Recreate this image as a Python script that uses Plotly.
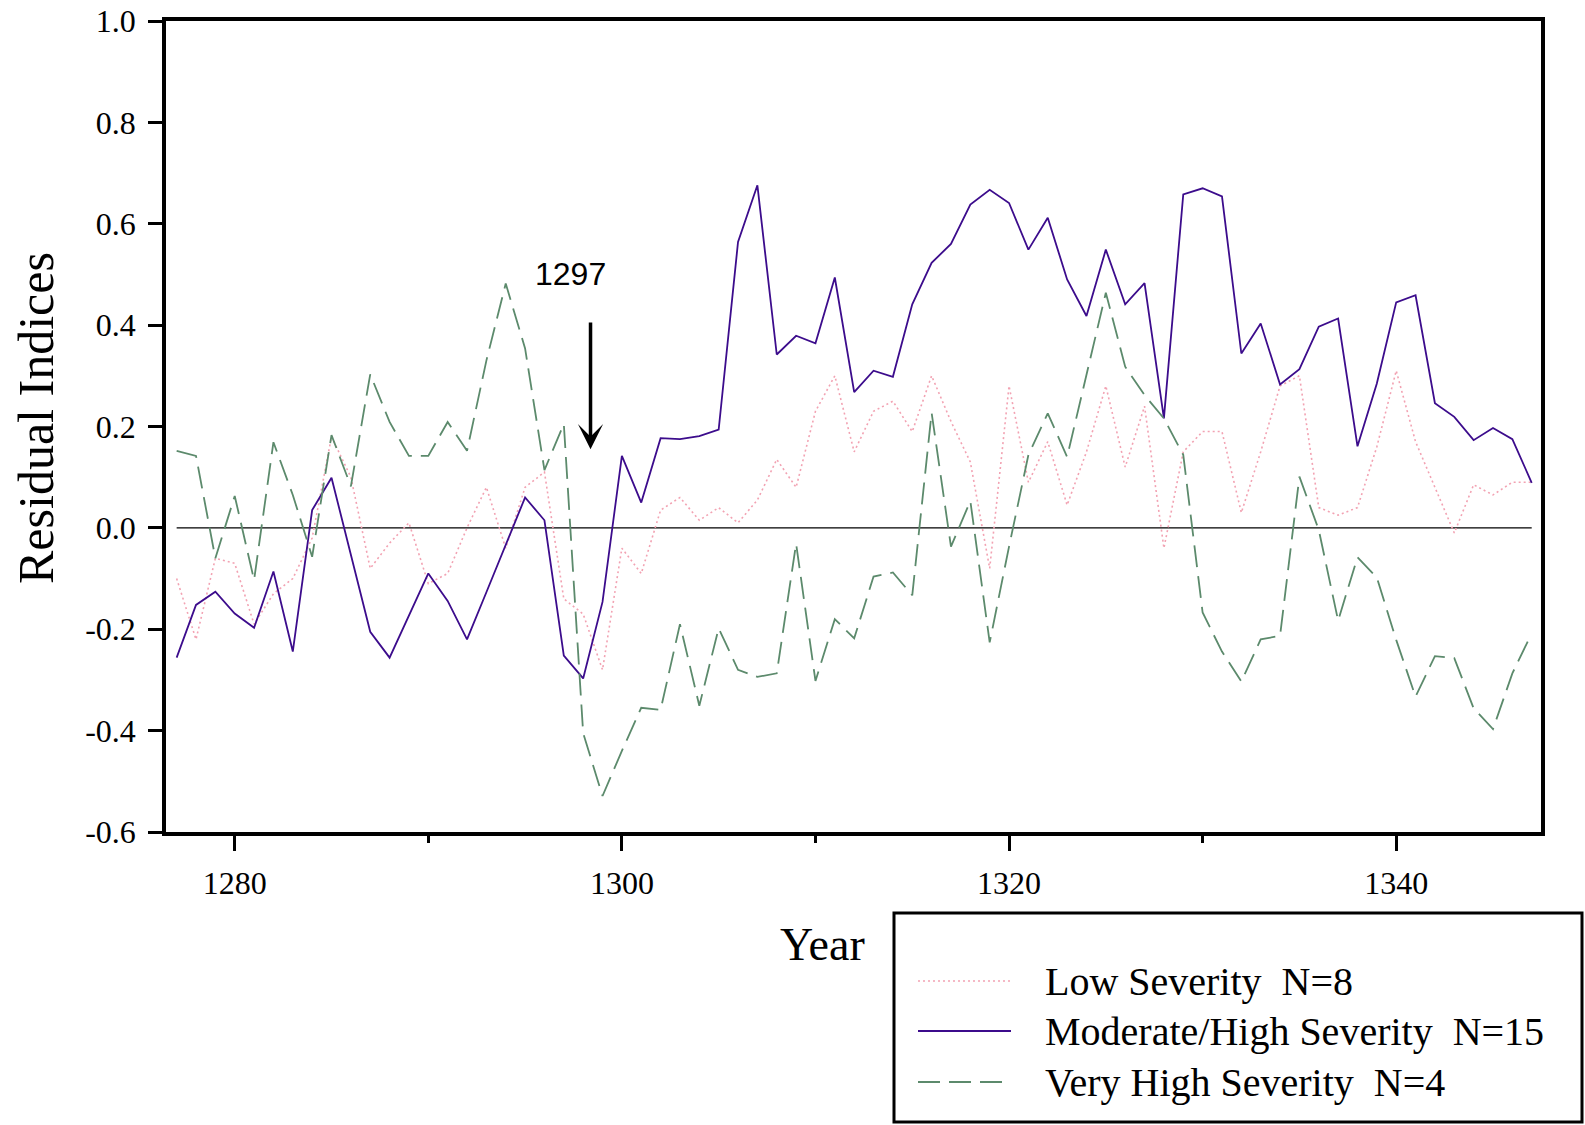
import plotly.graph_objects as go

# Residual indices by fire-severity class, 1277-1347
years = list(range(1277, 1348))

low_severity = [
    -0.10, -0.22, -0.06, -0.07, -0.19, -0.13, -0.10, -0.02, 0.18, 0.10,
    -0.08, -0.03, 0.01, -0.11, -0.09, 0.00, 0.08, -0.04, 0.08, 0.11,
    -0.14, -0.17, -0.28, -0.04, -0.09, 0.035, 0.06, 0.015, 0.04, 0.01,
    0.055, 0.135, 0.08, 0.23, 0.30, 0.15, 0.23, 0.25, 0.19, 0.30,
    0.21, 0.13, -0.08, 0.28, 0.09, 0.17, 0.045, 0.15, 0.28, 0.12,
    0.24, -0.04, 0.15, 0.19, 0.19, 0.03, 0.15, 0.28, 0.30, 0.04,
    0.025, 0.04, 0.16, 0.31, 0.17, 0.08, -0.01, 0.085, 0.065, 0.09,
    0.09,
]

moderate_high = [
    -0.256, -0.152, -0.126, -0.169, -0.197, -0.086, -0.244, 0.035, 0.099, -0.053,
    -0.205, -0.256, -0.173, -0.090, -0.144, -0.220, -0.127, -0.033, 0.060, 0.015,
    -0.252, -0.297, -0.146, 0.142, 0.050, 0.177, 0.175, 0.181, 0.194, 0.564,
    0.676, 0.342, 0.379, 0.364, 0.494, 0.268, 0.310, 0.298, 0.441, 0.523,
    0.560, 0.638, 0.667, 0.641, 0.549, 0.612, 0.490, 0.418, 0.549, 0.441,
    0.483, 0.216, 0.658, 0.670, 0.654, 0.344, 0.403, 0.283, 0.313, 0.397,
    0.413, 0.161, 0.285, 0.445, 0.459, 0.246, 0.219, 0.173, 0.197, 0.175,
    0.089,
]

very_high = [
    0.152, 0.142, -0.060, 0.063, -0.103, 0.169, 0.065, -0.057, 0.183, 0.082,
    0.303, 0.209, 0.142, 0.142, 0.209, 0.152, 0.330, 0.482, 0.354, 0.114,
    0.205, -0.405, -0.529, -0.440, -0.355, -0.359, -0.190, -0.351, -0.198, -0.280,
    -0.294, -0.287, -0.031, -0.302, -0.180, -0.218, -0.096, -0.088, -0.133, 0.227,
    -0.037, 0.053, -0.226, -0.037, 0.144, 0.226, 0.140, 0.305, 0.464, 0.318,
    0.262, 0.216, 0.144, -0.167, -0.244, -0.303, -0.220, -0.213, 0.101, -0.004,
    -0.183, -0.058, -0.098, -0.221, -0.333, -0.253, -0.257, -0.356, -0.397, -0.287,
    -0.208,
]

series_names = [
    "Low Severity  N=8",
    "Moderate/High Severity  N=15",
    "Very High Severity  N=4",
]

x_tick_vals = [1280, 1300, 1320, 1340]
x_minor_vals = [1290, 1310, 1330]
y_tick_vals = [-0.6, -0.4, -0.2, 0.0, 0.2, 0.4, 0.6, 0.8, 1.0]
y_tick_text = ["-0.6", "-0.4", "-0.2", "0.0", "0.2", "0.4", "0.6", "0.8", "1.0"]

event_year_label = "1297"

PINK = "#f2a2b2"
PURPLE = "#3c0c8c"
GREEN = "#5c8a6c"
SERIF = "Liberation Serif"

styles = [
    dict(color=PINK, width=1.6, dash="2px,3px"),
    dict(color=PURPLE, width=1.8, dash="solid"),
    dict(color=GREEN, width=1.8, dash="22px,9px"),
]

fig = go.Figure()

# zero reference line across the record
fig.add_trace(go.Scatter(
    x=[years[0], years[-1]], y=[0, 0], mode="lines",
    line=dict(color="black", width=1.4), showlegend=False, hoverinfo="skip",
))

for name, vals, st in zip(series_names, [low_severity, moderate_high, very_high], styles):
    fig.add_trace(go.Scatter(x=years, y=vals, mode="lines", name=name,
                             line=st, showlegend=False))

# plot-area geometry in pixels, used to place the legend box and titles
W, H = 1585, 1125
L, R, T, B = 166, 1541, 21, 832


def px(x):
    return (x - L) / (R - L)


def py(y):
    return (B - y) / (B - T)


shapes = []
annotations = []

# boxed legend below the plot, at the right
shapes.append(dict(type="rect", xref="paper", yref="paper",
                   x0=px(894), x1=px(1582), y0=py(1122), y1=py(913),
                   line=dict(color="black", width=3), fillcolor="white"))
row_y = [981, 1031, 1082]
for name, st, ry in zip(series_names, styles, row_y):
    shapes.append(dict(type="line", xref="paper", yref="paper",
                       x0=px(918), x1=px(1011), y0=py(ry), y1=py(ry),
                       line=dict(color=st["color"], width=st["width"], dash=st["dash"])))
    annotations.append(dict(xref="paper", yref="paper", x=px(1043), y=py(ry),
                            xanchor="left", yanchor="middle", showarrow=False,
                            text=name, font=dict(family=SERIF, size=40, color="black")))

# axis titles
annotations.append(dict(xref="paper", yref="paper", x=px(36), y=py(418),
                        text="Residual Indices", textangle=-90, showarrow=False,
                        xanchor="center", yanchor="middle",
                        font=dict(family=SERIF, size=50, color="black")))
annotations.append(dict(xref="paper", yref="paper", x=px(822), y=py(945),
                        text="Year", showarrow=False, xanchor="center", yanchor="middle",
                        font=dict(family=SERIF, size=46, color="black")))

# event marker: label and downward arrow
annotations.append(dict(xref="x", yref="y", x=1297.35, y=0.50, text=event_year_label,
                        showarrow=False, xanchor="center", yanchor="middle",
                        font=dict(family="Liberation Sans", size=32, color="black")))
annotations.append(dict(xref="x", yref="y", x=1298.38, y=0.155,
                        axref="x", ayref="y", ax=1298.38, ay=0.408, text="",
                        showarrow=True, arrowhead=3, arrowsize=1.2, arrowwidth=3.5,
                        arrowcolor="black"))

fig.update_layout(
    width=W, height=H,
    margin=dict(l=L, r=W - R, t=T, b=H - B, pad=0, autoexpand=False),
    plot_bgcolor="white", paper_bgcolor="white",
    showlegend=False,
    shapes=shapes, annotations=annotations,
    font=dict(family=SERIF, color="black"),
)

fig.update_xaxes(
    range=[1276.45, 1347.48], tickvals=x_tick_vals, ticks="outside",
    ticklen=15, tickwidth=2.5, tickcolor="black",
    minor=dict(tickvals=x_minor_vals, ticks="outside", ticklen=7, tickwidth=2.5,
               tickcolor="black"),
    showgrid=False, zeroline=False, showline=True, linewidth=3.5,
    linecolor="black", mirror=True, automargin=False,
    tickfont=dict(family=SERIF, size=32, color="black"), ticklabelstandoff=5,
)
fig.update_yaxes(
    range=[-0.6, 1.0], tickvals=y_tick_vals, ticktext=y_tick_text, ticks="outside",
    ticklen=14, tickwidth=3, tickcolor="black",
    showgrid=False, zeroline=False, showline=True, linewidth=3.5,
    linecolor="black", mirror=True, automargin=False,
    tickfont=dict(family=SERIF, size=32, color="black"), ticklabelstandoff=6,
)

fig.write_html("out.html")
